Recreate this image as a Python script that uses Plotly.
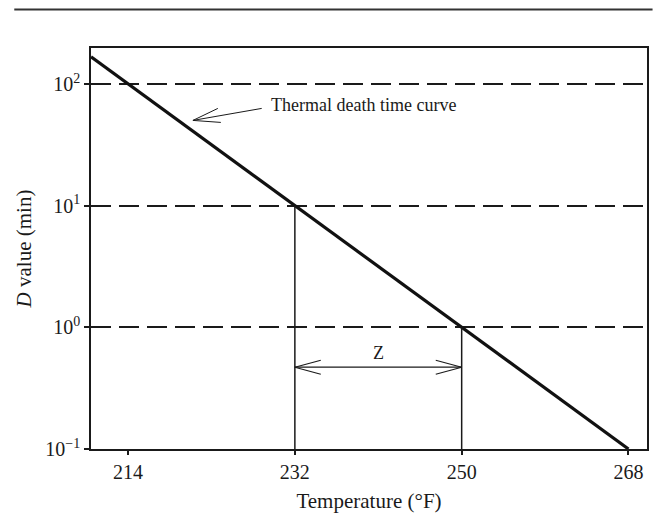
import math
import plotly.graph_objects as go

# ---- data ----
temps_f = [210, 232, 250, 268]          # °F
d_values = [167, 10, 1, 0.1]            # D value (min)
x_ticks = [214, 232, 250, 268]
y_ticks = [0.1, 1, 10, 100]
y_ticktext = ["10<sup>\u22121</sup>", "10<sup>0</sup>", "10<sup>1</sup>", "10<sup>2</sup>"]
z_low, z_high = 232, 250               # temperatures bounding the z interval
z_level = 0.47                          # height of the Z arrow (min)
z_label_level = 0.61
curve_label = "Thermal death time curve"
label_pos = (229.2, 10 ** 1.83)
arrow_tip = (221, 10 ** 1.70)

FONT = "Liberation Serif"
INK = "#1a1a1a"

W, H = 654, 515
ML, MR, MT, MB = 91, 5, 48, 66
X_RANGE = [210, 270]
Y_RANGE = [-1, 2.295]
PX_PER_X = (W - ML - MR) / (X_RANGE[1] - X_RANGE[0])
PX_PER_DEC = (H - MT - MB) / (Y_RANGE[1] - Y_RANGE[0])


def offset(x, y, dx_px, dy_px):
    """point displaced by a pixel offset (dy_px positive = down)"""
    return x + dx_px / PX_PER_X, y * 10 ** (-dy_px / PX_PER_DEC)


fig = go.Figure()


def seg(p0, p1, w=1.2, color=INK):
    fig.add_trace(go.Scatter(x=[p0[0], p1[0]], y=[p0[1], p1[1]], mode="lines",
                             line=dict(color=color, width=w), hoverinfo="skip"))


# thermal death time curve
fig.add_trace(go.Scatter(x=temps_f, y=d_values, mode="lines",
                         line=dict(color="#111", width=3.2), hoverinfo="skip"))
# vertical drop lines at 232 and 250
seg((z_low, y_ticks[0]), (z_low, 10), 1.5)
seg((z_high, y_ticks[0]), (z_high, 1), 1.5)
# Z double arrow
seg((z_low, z_level), (z_high, z_level), 1.2)
for dx, dy in [(26, -7), (26, 7)]:
    seg((z_low, z_level), offset(z_low, z_level, dx, dy), 1.2)
    seg((z_high, z_level), offset(z_high, z_level, -dx, dy), 1.2)

# pointer arrow to the curve
for dx, dy in [(69, -12), (25, -12), (28, 2)]:
    seg(arrow_tip, offset(arrow_tip[0], arrow_tip[1], dx, dy), 1.0)

ann = [
    dict(x=label_pos[0], y=math.log10(label_pos[1]), xref="x", yref="y",
         text=curve_label, showarrow=False, xanchor="left", yanchor="middle",
         font=dict(family=FONT, size=18, color=INK)),
    dict(x=(z_low + z_high) / 2, y=math.log10(z_label_level), xref="x", yref="y",
         text="Z", showarrow=False, xanchor="center", yanchor="middle",
         font=dict(family=FONT, size=18, color=INK)),
]

fig.update_layout(
    width=W, height=H,
    margin=dict(l=ML, r=MR, t=MT, b=MB),
    paper_bgcolor="white", plot_bgcolor="white",
    showlegend=False,
    font=dict(family=FONT, size=20, color=INK),
    annotations=ann,
    shapes=[dict(type="line", xref="paper", yref="paper",
                 x0=-0.138, x1=1.01, y0=1.096, y1=1.096,
                 line=dict(color="#333", width=2))],
)
fig.update_xaxes(range=X_RANGE, tickvals=x_ticks, ticktext=[str(t) for t in x_ticks],
                 showgrid=False, zeroline=False, showline=True, mirror=True,
                 linecolor=INK, linewidth=1.5, ticks="outside", ticklen=4,
                 tickcolor=INK, tickwidth=1.5,
                 title=dict(text="Temperature (°F)", font=dict(size=21), standoff=12),
                 tickfont=dict(size=20))
fig.update_yaxes(type="log", range=Y_RANGE, tickvals=y_ticks, ticktext=y_ticktext,
                 showgrid=True, gridcolor=INK, gridwidth=1.5, griddash="20px,8px",
                 zeroline=False, showline=True, mirror=True,
                 linecolor=INK, linewidth=1.5, ticks="outside", ticklen=5,
                 tickcolor=INK, tickwidth=1.5,
                 title=dict(text="<i>D</i> value (min)", font=dict(size=21), standoff=8),
                 tickfont=dict(size=20))

fig.write_html("out.html")
